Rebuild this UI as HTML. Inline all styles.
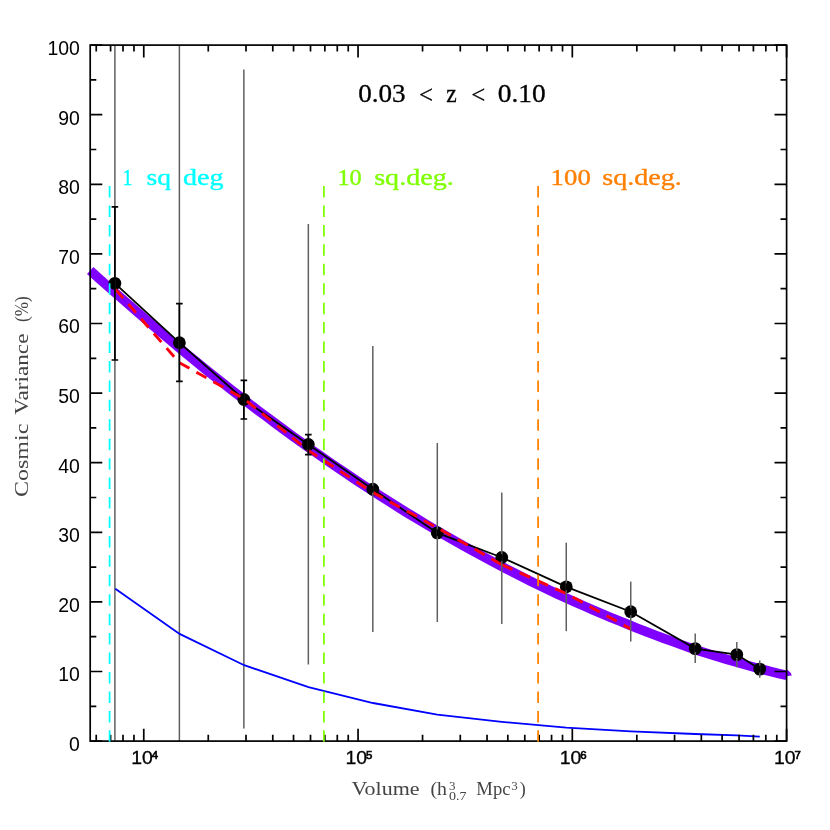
<!DOCTYPE html><html><head><meta charset="utf-8"><style>html,body{margin:0;padding:0;background:#fff}svg{display:block;will-change:transform}text{font-family:"Liberation Sans",sans-serif}.s{font-family:"Liberation Serif",serif}</style></head><body>
<svg width="830" height="830" viewBox="0 0 830 830">
<rect width="830" height="830" fill="#fff"/>
<polyline points="90.2,270.4 99.0,278.4 107.8,286.2 116.7,294.0 125.5,301.7 134.3,309.3 143.1,317.0 151.9,324.6 160.7,332.1 169.6,339.6 178.4,347.0 187.2,354.3 196.0,361.5 204.8,368.7 213.6,375.8 222.5,382.8 231.3,389.8 240.1,396.6 248.9,403.4 257.7,410.2 266.6,416.8 275.4,423.4 284.2,429.9 293.0,436.3 301.8,442.7 310.6,449.0 319.5,455.2 328.3,461.3 337.1,467.4 345.9,473.3 354.7,479.2 363.5,485.1 372.4,490.8 381.2,496.5 390.0,502.1 398.8,507.6 407.6,513.1 416.5,518.4 425.3,523.7 434.1,529.0 442.9,534.1 451.7,539.2 460.5,544.2 469.4,549.1 478.2,553.9 487.0,558.7 495.8,563.4 504.6,568.0 513.5,572.5 522.3,577.0 531.1,581.4 539.9,585.7 548.7,589.9 557.5,594.1 566.4,598.1 575.2,602.1 584.0,606.0 592.8,609.9 601.6,613.6 610.4,617.3 619.3,620.9 628.1,624.5 636.9,628.1 645.7,631.5 654.5,634.9 663.4,638.2 672.2,641.4 681.0,644.6 689.8,647.7 698.6,650.7 707.4,653.5 716.3,656.2 725.1,658.9 733.9,661.5 742.7,664.0 751.5,666.5 760.3,668.8 769.2,671.1 778.0,673.3 786.8,675.4" fill="none" stroke="#7f00ff" stroke-width="9.5" stroke-linejoin="round"/>
<path d="M786,669.6 L788.2,670.4 Q791.0,672.2 791.8,675.6 L786,676.2 Z" fill="#7f00ff"/>
<polyline points="114.9,283.4 179.38,342.7 243.86,399.5 308.34,444.5 372.82,489.2 437.3,532.9 501.78,557.5 566.26,586.8 630.74,611.7 695.22,648.6 736.8,654.6 759.75,669.1" fill="none" stroke="#000" stroke-width="1.8"/>
<circle cx="114.9" cy="283.4" r="6.4" fill="#000"/>
<circle cx="179.38" cy="342.7" r="6.4" fill="#000"/>
<circle cx="243.86" cy="399.5" r="6.4" fill="#000"/>
<circle cx="308.34" cy="444.5" r="6.4" fill="#000"/>
<circle cx="372.82" cy="489.2" r="6.4" fill="#000"/>
<circle cx="437.3" cy="532.9" r="6.4" fill="#000"/>
<circle cx="501.78" cy="557.5" r="6.4" fill="#000"/>
<circle cx="566.26" cy="586.8" r="6.4" fill="#000"/>
<circle cx="630.74" cy="611.7" r="6.4" fill="#000"/>
<circle cx="695.22" cy="648.6" r="6.4" fill="#000"/>
<circle cx="736.8" cy="654.6" r="6.4" fill="#000"/>
<circle cx="759.75" cy="669.1" r="6.4" fill="#000"/>
<polyline points="115.6,289.4 179.2,362.6 243.9,398.8 308.5,450.6 373.0,492.5 437.3,527.8 501.9,564.7" fill="none" stroke="#ff0010" stroke-width="2.9" stroke-dasharray="11.5 7.94"/>
<polyline points="501.9,564.7 566.3,593.6 630.8,629.0" fill="none" stroke="#ff0010" stroke-width="2.9" stroke-dasharray="11.5 7.94"/>
<line x1="114.9" y1="45.1" x2="114.9" y2="741.1" stroke="#606060" stroke-width="1.5"/>
<line x1="179.38" y1="45.1" x2="179.38" y2="741.1" stroke="#606060" stroke-width="1.5"/>
<line x1="243.86" y1="69.5" x2="243.86" y2="728.6" stroke="#606060" stroke-width="1.5"/>
<line x1="308.34" y1="224.0" x2="308.34" y2="664.6" stroke="#606060" stroke-width="1.5"/>
<line x1="372.82" y1="346" x2="372.82" y2="632" stroke="#606060" stroke-width="1.5"/>
<line x1="437.3" y1="443" x2="437.3" y2="622" stroke="#606060" stroke-width="1.5"/>
<line x1="501.78" y1="492.4" x2="501.78" y2="624" stroke="#606060" stroke-width="1.5"/>
<line x1="566.26" y1="542.7" x2="566.26" y2="631.2" stroke="#606060" stroke-width="1.5"/>
<line x1="630.74" y1="581.6" x2="630.74" y2="641.6" stroke="#606060" stroke-width="1.5"/>
<line x1="695.22" y1="633.4" x2="695.22" y2="663.0" stroke="#606060" stroke-width="1.5"/>
<line x1="736.8" y1="642.0" x2="736.8" y2="667.3" stroke="#606060" stroke-width="1.5"/>
<line x1="759.75" y1="660.4" x2="759.75" y2="677.8" stroke="#606060" stroke-width="1.5"/>
<path d="M114.9,206.8V360.0M111.60000000000001,206.8h6.6M111.60000000000001,360.0h6.6" stroke="#000" stroke-width="1.7" fill="none"/>
<path d="M179.38,303.6V381.4M176.07999999999998,303.6h6.6M176.07999999999998,381.4h6.6" stroke="#000" stroke-width="1.7" fill="none"/>
<path d="M243.86,380.3V419.0M240.56,380.3h6.6M240.56,419.0h6.6" stroke="#000" stroke-width="1.7" fill="none"/>
<path d="M308.34,434.7V454.6M305.03999999999996,434.7h6.6M305.03999999999996,454.6h6.6" stroke="#000" stroke-width="1.7" fill="none"/>
<line x1="372.82" y1="485.8" x2="372.82" y2="492.59999999999997" stroke="#000" stroke-width="1.7"/>
<line x1="437.3" y1="529.5" x2="437.3" y2="536.3" stroke="#000" stroke-width="1.7"/>
<line x1="501.78" y1="554.1" x2="501.78" y2="560.9" stroke="#000" stroke-width="1.7"/>
<line x1="566.26" y1="583.4" x2="566.26" y2="590.1999999999999" stroke="#000" stroke-width="1.7"/>
<line x1="630.74" y1="608.3000000000001" x2="630.74" y2="615.1" stroke="#000" stroke-width="1.7"/>
<line x1="695.22" y1="645.2" x2="695.22" y2="652.0" stroke="#000" stroke-width="1.7"/>
<line x1="736.8" y1="651.2" x2="736.8" y2="658.0" stroke="#000" stroke-width="1.7"/>
<line x1="759.75" y1="665.7" x2="759.75" y2="672.5" stroke="#000" stroke-width="1.7"/>
<polyline points="115.3,588.8 179.6,633.9 244.2,665.2 308.5,687.1 373,703.0 437.3,714.6 501.9,721.8 566.3,727.6 630.8,731.4 695.2,734.0 736.8,735.4 759.8,736.6" fill="none" stroke="#0000ff" stroke-width="1.8"/>
<path d="M96.23,741.1v-6.3M96.23,45.1v6.3M110.58,741.1v-6.3M110.58,45.1v6.3M123.00,741.1v-6.3M123.00,45.1v6.3M133.96,741.1v-6.3M133.96,45.1v6.3M143.77,741.1v-12.3M143.77,45.1v12.3M208.27,741.1v-6.3M208.27,45.1v6.3M246.01,741.1v-6.3M246.01,45.1v6.3M272.78,741.1v-6.3M272.78,45.1v6.3M293.54,741.1v-6.3M293.54,45.1v6.3M310.51,741.1v-6.3M310.51,45.1v6.3M324.85,741.1v-6.3M324.85,45.1v6.3M337.28,741.1v-6.3M337.28,45.1v6.3M348.24,741.1v-6.3M348.24,45.1v6.3M358.05,741.1v-12.3M358.05,45.1v12.3M422.55,741.1v-6.3M422.55,45.1v6.3M460.28,741.1v-6.3M460.28,45.1v6.3M487.05,741.1v-6.3M487.05,45.1v6.3M507.82,741.1v-6.3M507.82,45.1v6.3M524.79,741.1v-6.3M524.79,45.1v6.3M539.13,741.1v-6.3M539.13,45.1v6.3M551.56,741.1v-6.3M551.56,45.1v6.3M562.52,741.1v-6.3M562.52,45.1v6.3M572.32,741.1v-12.3M572.32,45.1v12.3M636.83,741.1v-6.3M636.83,45.1v6.3M674.56,741.1v-6.3M674.56,45.1v6.3M701.33,741.1v-6.3M701.33,45.1v6.3M722.10,741.1v-6.3M722.10,45.1v6.3M739.06,741.1v-6.3M739.06,45.1v6.3M753.41,741.1v-6.3M753.41,45.1v6.3M765.83,741.1v-6.3M765.83,45.1v6.3M776.80,741.1v-6.3M776.80,45.1v6.3M786.60,741.1v-12.3M786.60,45.1v12.3M90.2,741.10h12.1M786.6,741.10h-12.1M90.2,706.30h6.1M786.6,706.30h-6.1M90.2,671.50h12.1M786.6,671.50h-12.1M90.2,636.70h6.1M786.6,636.70h-6.1M90.2,601.90h12.1M786.6,601.90h-12.1M90.2,567.10h6.1M786.6,567.10h-6.1M90.2,532.30h12.1M786.6,532.30h-12.1M90.2,497.50h6.1M786.6,497.50h-6.1M90.2,462.70h12.1M786.6,462.70h-12.1M90.2,427.90h6.1M786.6,427.90h-6.1M90.2,393.10h12.1M786.6,393.10h-12.1M90.2,358.30h6.1M786.6,358.30h-6.1M90.2,323.50h12.1M786.6,323.50h-12.1M90.2,288.70h6.1M786.6,288.70h-6.1M90.2,253.90h12.1M786.6,253.90h-12.1M90.2,219.10h6.1M786.6,219.10h-6.1M90.2,184.30h12.1M786.6,184.30h-12.1M90.2,149.50h6.1M786.6,149.50h-6.1M90.2,114.70h12.1M786.6,114.70h-12.1M90.2,79.90h6.1M786.6,79.90h-6.1M90.2,45.10h12.1M786.6,45.10h-12.1" stroke="#000" stroke-width="1.7" fill="none"/>
<rect x="90.2" y="45.1" width="696.4" height="696.0" fill="none" stroke="#000" stroke-width="1.7"/>
<line x1="109.6" y1="186.0" x2="109.6" y2="741.8" stroke="#00ffff" stroke-width="1.75" stroke-dasharray="11.5 7.94"/>
<line x1="323.9" y1="186.0" x2="323.9" y2="741.8" stroke="#7fff00" stroke-width="1.75" stroke-dasharray="11.5 7.94"/>
<line x1="538.1" y1="186.0" x2="538.1" y2="741.8" stroke="#ff7f00" stroke-width="1.75" stroke-dasharray="11.5 7.94"/>
<text x="69.1" y="750.9" font-size="19.8" textLength="10.8" lengthAdjust="spacingAndGlyphs">0</text>
<text x="58.3" y="681.3" font-size="19.8" textLength="21.6" lengthAdjust="spacingAndGlyphs">10</text>
<text x="58.3" y="611.7" font-size="19.8" textLength="21.6" lengthAdjust="spacingAndGlyphs">20</text>
<text x="58.3" y="542.1" font-size="19.8" textLength="21.6" lengthAdjust="spacingAndGlyphs">30</text>
<text x="58.3" y="472.5" font-size="19.8" textLength="21.6" lengthAdjust="spacingAndGlyphs">40</text>
<text x="58.3" y="402.9" font-size="19.8" textLength="21.6" lengthAdjust="spacingAndGlyphs">50</text>
<text x="58.3" y="333.3" font-size="19.8" textLength="21.6" lengthAdjust="spacingAndGlyphs">60</text>
<text x="58.3" y="263.7" font-size="19.8" textLength="21.6" lengthAdjust="spacingAndGlyphs">70</text>
<text x="58.3" y="194.1" font-size="19.8" textLength="21.6" lengthAdjust="spacingAndGlyphs">80</text>
<text x="58.3" y="124.5" font-size="19.8" textLength="21.6" lengthAdjust="spacingAndGlyphs">90</text>
<text x="47.5" y="54.9" font-size="19.8" textLength="32.4" lengthAdjust="spacingAndGlyphs">100</text>
<text x="131.2" y="764.4" font-size="18.2" textLength="21.6" lengthAdjust="spacingAndGlyphs" stroke="#000" stroke-width="0.3">10</text><text x="151.8" y="758.9" font-size="11.4" stroke="#000" stroke-width="0.65">4</text>
<text x="345.4" y="764.4" font-size="18.2" textLength="21.6" lengthAdjust="spacingAndGlyphs" stroke="#000" stroke-width="0.3">10</text><text x="366.0" y="758.9" font-size="11.4" stroke="#000" stroke-width="0.65">5</text>
<text x="559.7" y="764.4" font-size="18.2" textLength="21.6" lengthAdjust="spacingAndGlyphs" stroke="#000" stroke-width="0.3">10</text><text x="580.3" y="758.9" font-size="11.4" stroke="#000" stroke-width="0.65">6</text>
<text x="774.0" y="764.4" font-size="18.2" textLength="21.6" lengthAdjust="spacingAndGlyphs" stroke="#000" stroke-width="0.3">10</text><text x="794.6" y="758.9" font-size="11.4" stroke="#000" stroke-width="0.65">7</text>
<text class="s" x="358.2" y="101.9" font-size="24.4" fill="#000" textLength="47.5" lengthAdjust="spacingAndGlyphs" stroke="#000" stroke-width="0.3">0.03</text>
<text class="s" x="419.0" y="103.2" font-size="24.4" fill="#000" textLength="14" lengthAdjust="spacingAndGlyphs" stroke="#000" stroke-width="0.3">&lt;</text>
<text class="s" x="446.3" y="101.9" font-size="24.4" fill="#000" textLength="10.5" lengthAdjust="spacingAndGlyphs" stroke="#000" stroke-width="0.3">z</text>
<text class="s" x="471.2" y="103.2" font-size="24.4" fill="#000" textLength="14" lengthAdjust="spacingAndGlyphs" stroke="#000" stroke-width="0.3">&lt;</text>
<text class="s" x="497.7" y="101.9" font-size="24.4" fill="#000" textLength="48" lengthAdjust="spacingAndGlyphs" stroke="#000" stroke-width="0.3">0.10</text>
<text class="s" x="122.5" y="184.5" font-size="22.8" fill="#00ffff" textLength="10" lengthAdjust="spacingAndGlyphs" stroke="#00ffff" stroke-width="0.35">1</text>
<text class="s" x="146.6" y="184.5" font-size="22.8" fill="#00ffff" textLength="24.5" lengthAdjust="spacingAndGlyphs" stroke="#00ffff" stroke-width="0.35">sq</text>
<text class="s" x="183.0" y="184.5" font-size="22.8" fill="#00ffff" textLength="40.5" lengthAdjust="spacingAndGlyphs" stroke="#00ffff" stroke-width="0.35">deg</text>
<text class="s" x="337.4" y="184.5" font-size="22.8" fill="#7fff00" textLength="24.3" lengthAdjust="spacingAndGlyphs" stroke="#7fff00" stroke-width="0.35">10</text>
<text class="s" x="374.2" y="184.5" font-size="22.8" fill="#7fff00" textLength="79.5" lengthAdjust="spacingAndGlyphs" stroke="#7fff00" stroke-width="0.35">sq.deg.</text>
<text class="s" x="550.6" y="184.5" font-size="22.8" fill="#ff7f00" textLength="40.2" lengthAdjust="spacingAndGlyphs" stroke="#ff7f00" stroke-width="0.35">100</text>
<text class="s" x="602.3" y="184.5" font-size="22.8" fill="#ff7f00" textLength="79.5" lengthAdjust="spacingAndGlyphs" stroke="#ff7f00" stroke-width="0.35">sq.deg.</text>
<text class="s" x="351.5" y="794.5" font-size="18" fill="#444" textLength="68" lengthAdjust="spacingAndGlyphs" >Volume</text>
<text class="s" x="430.5" y="794.5" font-size="18" fill="#444" textLength="16.5" lengthAdjust="spacingAndGlyphs" >(h</text>
<text class="s" x="449.0" y="789.5" font-size="12.5" fill="#444" textLength="6.5" lengthAdjust="spacingAndGlyphs" >3</text>
<text class="s" x="449.0" y="799.5" font-size="12.5" fill="#444" textLength="17.5" lengthAdjust="spacingAndGlyphs" >0.7</text>
<text class="s" x="476.3" y="794.5" font-size="18" fill="#444" textLength="34.2" lengthAdjust="spacingAndGlyphs" >Mpc</text>
<text class="s" x="511.2" y="789.5" font-size="12.5" fill="#444" textLength="6.5" lengthAdjust="spacingAndGlyphs" >3</text>
<text class="s" x="519.8" y="794.5" font-size="18" fill="#444" textLength="6" lengthAdjust="spacingAndGlyphs" >)</text>
<g transform="translate(27.8,497) rotate(-90)">
<text class="s" x="0" y="0" font-size="18" fill="#444" textLength="73.3" lengthAdjust="spacingAndGlyphs" >Cosmic</text>
<text class="s" x="82.2" y="0" font-size="18" fill="#444" textLength="81.3" lengthAdjust="spacingAndGlyphs" >Variance</text>
<text class="s" x="175" y="0" font-size="18" fill="#444" textLength="25.6" lengthAdjust="spacingAndGlyphs" >(%)</text>
</g>
</svg></body></html>
